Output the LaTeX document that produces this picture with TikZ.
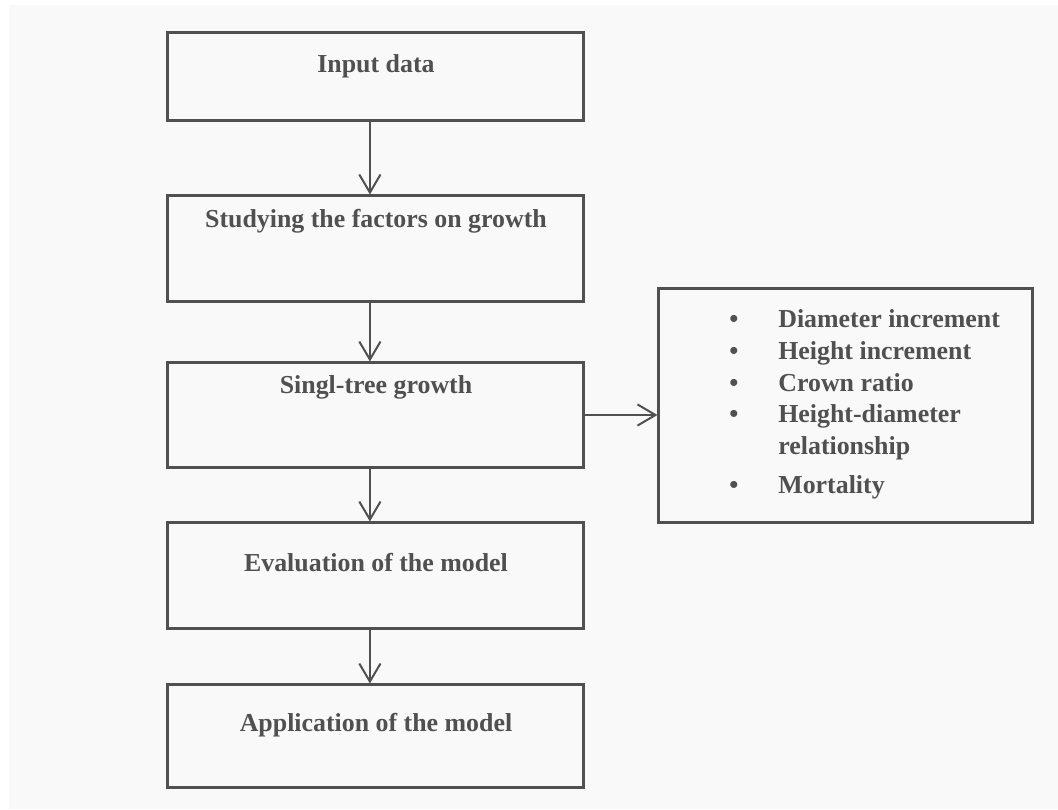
\documentclass[tikz,border=0pt]{standalone}
\usepackage{fontspec}
\setmainfont{Liberation Serif}
\usepackage{xcolor}
\usepackage{tikz}
\usetikzlibrary{arrows.meta,positioning,shapes}

\definecolor{ink}{HTML}{505050}
\definecolor{paper}{HTML}{F9F9F9}

\tikzset{
  box/.style={draw=ink, line width=0.075cm, rectangle, minimum width=10.375cm, inner sep=0pt},
  lbl/.style={text=ink, font=\fontsize{18.4}{22.7}\selectfont\bfseries, anchor=base, inner sep=0pt},
  arr/.style={draw=ink, line width=0.05cm, -{Straight Barb[length=4.5mm,width=5.3mm]}}
}

\begin{document}
\begin{tikzpicture}[x=0.025cm, y=-0.025cm]
    \useasboundingbox[fill=white] (0,0) rectangle (1058,809);
    \fill[paper] (9,5) rectangle (1058,809);

    \node[box, minimum height=2.175cm] (b1) at (375.5, 76.5)  {};
    \node[box, minimum height=2.625cm] (b2) at (375.5, 248.5) {};
    \node[box, minimum height=2.6cm]   (b3) at (375.5, 415)   {};
    \node[box, minimum height=2.625cm] (b4) at (375.5, 575.5) {};
    \node[box, minimum height=2.55cm]  (b5) at (375.5, 736)   {};
    \node[box, minimum width=9.325cm, minimum height=5.825cm] (side) at (845.5, 405.5) {};

    % box texts
    \node[lbl] (t1) at (376, 72)  {Input data};
    \node[lbl] (t2) at (376, 227) {Studying the factors on growth};
    \node[lbl] (t3) at (376, 393) {Singl-tree growth};
    \node[lbl] (t4) at (376, 571) {Evaluation of the model};
    \node[lbl] (t5) at (376, 731) {Application of the model};

    % list of the growth parts
    \node[lbl, anchor=north west] (items) at (729, 304.6) {%
      \begin{tabular}{@{}l@{\hspace{1cm}}l@{}}
        • & Diameter increment\\
        • & Height increment\\
        • & Crown ratio\\
        • & Height-diameter\\
          & relationship\\[0.17cm]
        • & Mortality
      \end{tabular}};

    % flow
    \draw[arr] ([xshift=-1.4mm]b1.south) -- ([xshift=-1.4mm]b2.north);
    \draw[arr] ([xshift=-1.4mm]b2.south) -- ([xshift=-1.4mm]b3.north);
    \draw[arr] ([xshift=-1.4mm]b3.south) -- ([xshift=-1.4mm]b4.north);
    \draw[arr] ([xshift=-1.4mm]b4.south) -- ([xshift=-1.4mm]b5.north);
    \draw[arr] (b3.east) -- (b3.east -| side.west);
\end{tikzpicture}
\end{document}
